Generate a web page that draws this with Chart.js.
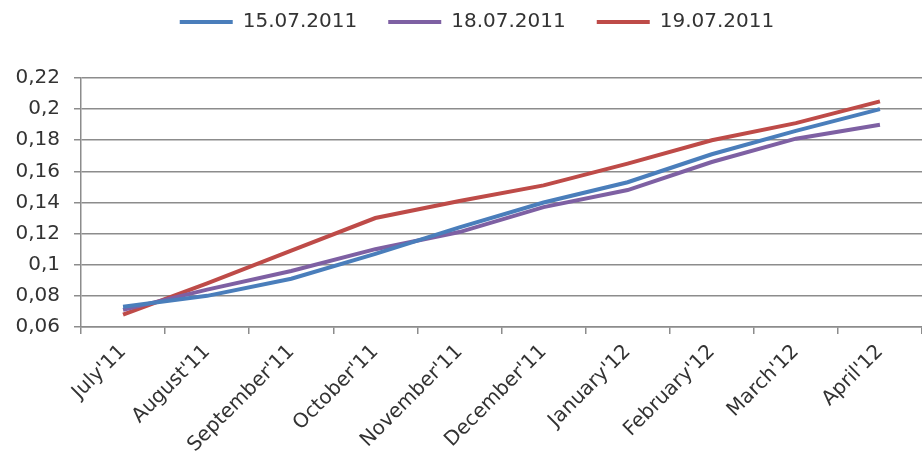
<!DOCTYPE html>
<html>
<head>
<meta charset="utf-8">
<script src="https://cdn.jsdelivr.net/npm/chart.js@4"></script>
<style>
  html, body { margin: 0; padding: 0; background: #ffffff; }
  #wrap { width: 922px; height: 463px; position: relative; }
</style>
</head>
<body>
<div id="wrap"><canvas id="c"></canvas></div>
<script>
const categories = ["July'11", "August'11", "September'11", "October'11", "November'11", "December'11", "January'12", "February'12", "March'12", "April'12"];
const seriesNames = ["15.07.2011", "18.07.2011", "19.07.2011"];
const series15 = [0.073, 0.080, 0.091, 0.107, 0.124, 0.140, 0.153, 0.171, 0.186, 0.200];
const series18 = [0.071, 0.084, 0.096, 0.110, 0.121, 0.137, 0.148, 0.166, 0.181, 0.190];
const series19 = [0.068, 0.088, 0.109, 0.130, 0.141, 0.151, 0.165, 0.180, 0.191, 0.205];
const yTickValues = [0.06, 0.08, 0.10, 0.12, 0.14, 0.16, 0.18, 0.20, 0.22];
const yTickLabels = ["0,06", "0,08", "0,1", "0,12", "0,14", "0,16", "0,18", "0,2", "0,22"];
const colors = ["#4a7ebb", "#7e60a3", "#be4b48"];

const FONT = "'DejaVu Sans', sans-serif";
const TEXT = "#333333";
const GRID = "#8c8c8c";

const mk = (label, data, color) => ({
  label, data,
  borderColor: color, backgroundColor: color,
  borderWidth: 4, pointRadius: 0, pointHoverRadius: 0,
  tension: 0, fill: false, pointStyle: 'line'
});

const legendGap = {
  id: 'legendGap',
  beforeInit(chart) {
    const lg = chart.legend;
    if (!lg) return;
    const orig = lg.fit;
    lg.fit = function () { orig.call(this); this.height += 36; };
  },
  afterLayout(chart) {
    const lg = chart.legend;
    if (!lg) return;
    lg.left += 12;
    lg.right += 12;
  }
};

new Chart(document.getElementById('c'), {
  type: 'line',
  data: {
    labels: categories,
    datasets: [
      mk(seriesNames[0], series15, colors[0]),
      mk(seriesNames[1], series18, colors[1]),
      mk(seriesNames[2], series19, colors[2])
    ]
  },
  plugins: [legendGap],
  options: {
    responsive: true,
    maintainAspectRatio: false,
    animation: false,
    devicePixelRatio: 1,
    layout: { padding: { left: 8, right: 0, top: -19, bottom: 0 } },
    plugins: {
      legend: {
        position: 'top',
        align: 'center',
        labels: {
          usePointStyle: true,
          pointStyleWidth: 53,
          boxHeight: 4,
          padding: 31,
          color: TEXT,
          font: { family: FONT, size: 20 }
        }
      },
      tooltip: { enabled: false }
    },
    scales: {
      x: {
        offset: true,
        grid: { display: true, drawOnChartArea: false, drawTicks: true, tickLength: 7, offset: true, color: GRID, lineWidth: 1.5 },
        border: { display: true, color: GRID, width: 1.5 },
        ticks: {
          autoSkip: false, maxRotation: 45, minRotation: 45, padding: 6,
          color: TEXT, font: { family: FONT, size: 20 }
        }
      },
      y: {
        min: 0.06, max: 0.22,
        afterFit: (s) => { s.width = 73; },
        ticks: {
          stepSize: 0.02,
          padding: 14,
          color: TEXT,
          font: { family: FONT, size: 20 },
          callback: (v) => {
            let best = 0;
            for (let i = 0; i < yTickValues.length; i++) {
              if (Math.abs(yTickValues[i] - v) < Math.abs(yTickValues[best] - v)) best = i;
            }
            return yTickLabels[best];
          }
        },
        grid: { color: GRID, lineWidth: 1.5, drawTicks: true, tickLength: 7 },
        border: { display: true, color: GRID, width: 1.5 }
      }
    }
  }
});
</script>
</body>
</html>
